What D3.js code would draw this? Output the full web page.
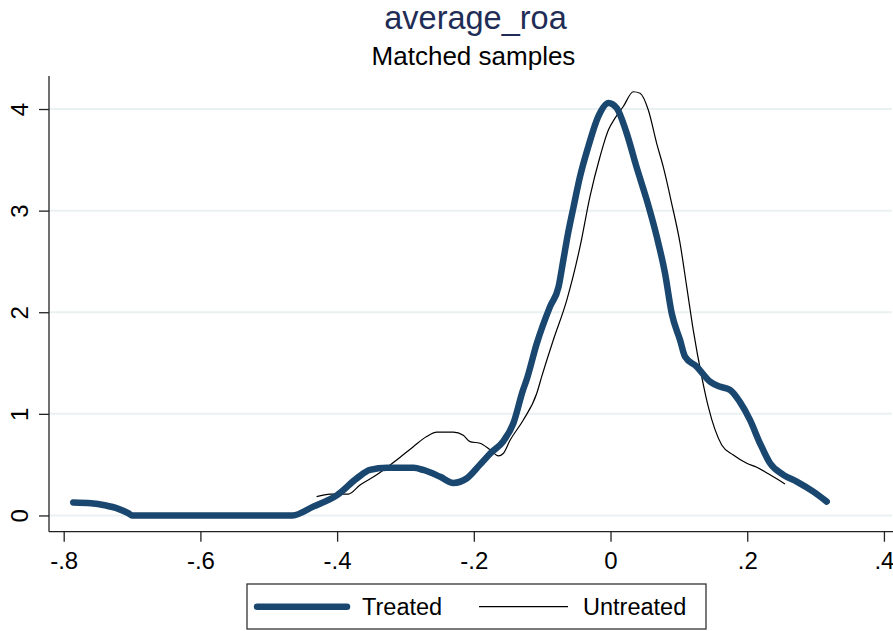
<!DOCTYPE html>
<html>
<head>
<meta charset="utf-8">
<script src="https://cdn.jsdelivr.net/npm/d3@7"></script>
<style>
  html, body { margin: 0; padding: 0; background: #fff; }
  svg { display: block; font-family: "Liberation Sans", Arial, sans-serif; }
</style>
</head>
<body>
<svg id="chart" width="893" height="631"></svg>
<script>
// Kernel density of average_roa, matched samples
const treatedX = [-0.786, -0.76, -0.74, -0.72, -0.705, -0.70, -0.60, -0.50, -0.465, -0.435, -0.40, -0.371, -0.352,
  -0.327, -0.288, -0.274, -0.249, -0.230, -0.210, -0.191, -0.176, -0.157, -0.142, -0.128, -0.123, -0.108,
  -0.0885, -0.076, -0.069, -0.062, -0.054, -0.0446, -0.0325, -0.018, -0.003, 0.009, 0.0237, 0.038, 0.053,
  0.0676, 0.0797, 0.0895, 0.1017, 0.109, 0.126, 0.1456, 0.160, 0.175, 0.189, 0.204, 0.2187, 0.2334,
  0.2528, 0.2724, 0.2967, 0.3163];
const treatedY = [0.128, 0.12, 0.10, 0.065, 0.02, 0.0, 0.0, 0.0, 0.0, 0.087, 0.20, 0.366, 0.448,
  0.47, 0.47, 0.448, 0.38, 0.32, 0.366, 0.50, 0.61, 0.73, 0.91, 1.235, 1.33, 1.69,
  2.055, 2.25, 2.515, 2.78, 3.04, 3.335, 3.63, 3.925, 4.06, 4.01, 3.76, 3.43, 3.105,
  2.745, 2.385, 1.99, 1.727, 1.563, 1.465, 1.317, 1.268, 1.235, 1.12, 0.94, 0.71, 0.514,
  0.40, 0.333, 0.234, 0.136];

const untreatedX = [-0.430, -0.41, -0.3836, -0.3665, -0.342, -0.3128, -0.2885, -0.269, -0.254, -0.23, -0.2154,
  -0.2056, -0.191, -0.176, -0.164, -0.157, -0.147, -0.1276, -0.108, -0.1007, -0.0837, -0.064, -0.0446,
  -0.030, -0.0154, -0.003, 0.0066, 0.0187, 0.0334, 0.0432, 0.0553, 0.0676, 0.0772, 0.0895, 0.1017,
  0.1115, 0.121, 0.1334, 0.143, 0.1627, 0.1797, 0.1993, 0.214, 0.2334, 0.2553];
const untreatedY = [0.185, 0.21, 0.21, 0.30, 0.40, 0.546, 0.677, 0.776, 0.82, 0.82, 0.79,
  0.726, 0.71, 0.645, 0.586, 0.61, 0.74, 0.94, 1.20, 1.366, 1.727, 2.12, 2.645,
  3.14, 3.53, 3.795, 3.91, 4.025, 4.17, 4.155, 3.99, 3.66, 3.43, 3.07, 2.68,
  2.25, 1.826, 1.366, 1.07, 0.694, 0.595, 0.514, 0.474, 0.40, 0.31];

const xTicks = [-0.8, -0.6, -0.4, -0.2, 0, 0.2, 0.4];
const xTickLabels = ["-.8", "-.6", "-.4", "-.2", "0", ".2", ".4"];
const yTicks = [0, 1, 2, 3, 4];
const seriesNames = ["Treated", "Untreated"];

const svg = d3.select("#chart");
const plot = { left: 49, right: 892, top: 76, bottom: 531.7 };

const x = d3.scaleLinear().domain([-0.8215, 0.4118]).range([plot.left, plot.right]);
const y = d3.scaleLinear().domain([-0.16, 4.325]).range([plot.bottom, plot.top]);

// horizontal grid
svg.append("g").selectAll("line").data(yTicks).join("line")
  .attr("x1", plot.left).attr("x2", plot.right)
  .attr("y1", d => y(d)).attr("y2", d => y(d))
  .attr("stroke", "#eaf1f3").attr("stroke-width", 2);

// y axis
const yAxis = svg.append("g").attr("transform", `translate(${plot.left},0)`)
  .call(d3.axisLeft(y).tickValues(yTicks).tickSize(10).tickPadding(0).tickFormat(d3.format("d")));
yAxis.select(".domain").attr("d", `M0,${plot.top}V${plot.bottom}`).attr("stroke", "#222").attr("stroke-width", 1.3);
yAxis.selectAll(".tick line").attr("stroke", "#222").attr("stroke-width", 1.3);
yAxis.selectAll(".tick text")
  .attr("x", 0).attr("y", 0)
  .attr("transform", "translate(-21,0) rotate(-90)")
  .attr("text-anchor", "middle").attr("dy", 0)
  .attr("font-size", 24).attr("fill", "#000")
  .attr("font-family", "'Liberation Sans', Arial, sans-serif");

// x axis
const xAxis = svg.append("g").attr("transform", `translate(0,${plot.bottom})`)
  .call(d3.axisBottom(x).tickValues(xTicks).tickSize(10).tickPadding(0)
    .tickFormat((d, i) => xTickLabels[i]));
xAxis.select(".domain").attr("d", `M${plot.left},0H${plot.right + 1}`).attr("stroke", "#222").attr("stroke-width", 1.3);
xAxis.selectAll(".tick line").attr("stroke", "#222").attr("stroke-width", 1.3);
xAxis.selectAll(".tick text")
  .attr("y", 37).attr("dy", 0)
  .attr("font-size", 24).attr("fill", "#000")
  .attr("font-family", "'Liberation Sans', Arial, sans-serif");

// density curves
const line = d3.line().x(d => x(d[0])).y(d => y(d[1])).curve(d3.curveMonotoneX);
const treated = treatedX.map((v, i) => [v, treatedY[i]]);
const untreated = untreatedX.map((v, i) => [v, untreatedY[i]]);

svg.append("path").datum(untreated)
  .attr("d", line).attr("fill", "none")
  .attr("stroke", "#000").attr("stroke-width", 1.2);

svg.append("path").datum(treated)
  .attr("d", line).attr("fill", "none")
  .attr("stroke", "#1a476f").attr("stroke-width", 6.5)
  .attr("stroke-linecap", "round").attr("stroke-linejoin", "round");

// titles
svg.append("text").attr("x", 475.5).attr("y", 29).attr("text-anchor", "middle")
  .attr("font-size", 32.5).attr("fill", "#1f2d56").text("average_roa");
svg.append("text").attr("x", 473.5).attr("y", 65).attr("text-anchor", "middle")
  .attr("font-size", 26).attr("fill", "#000").text("Matched samples");

// legend
const lg = svg.append("g");
lg.append("rect").attr("x", 247).attr("y", 584).attr("width", 459).attr("height", 45)
  .attr("fill", "#fff").attr("stroke", "#333").attr("stroke-width", 1.3);
lg.append("line").attr("x1", 257).attr("x2", 347).attr("y1", 606.7).attr("y2", 606.7)
  .attr("stroke", "#1a476f").attr("stroke-width", 6.5).attr("stroke-linecap", "round");
lg.append("text").attr("x", 362).attr("y", 615).attr("font-size", 23.5).attr("fill", "#000").text(seriesNames[0]);
lg.append("line").attr("x1", 479).attr("x2", 568).attr("y1", 606.7).attr("y2", 606.7)
  .attr("stroke", "#000").attr("stroke-width", 1.2);
lg.append("text").attr("x", 583).attr("y", 615).attr("font-size", 23.5).attr("fill", "#000").text(seriesNames[1]);
</script>
</body>
</html>
